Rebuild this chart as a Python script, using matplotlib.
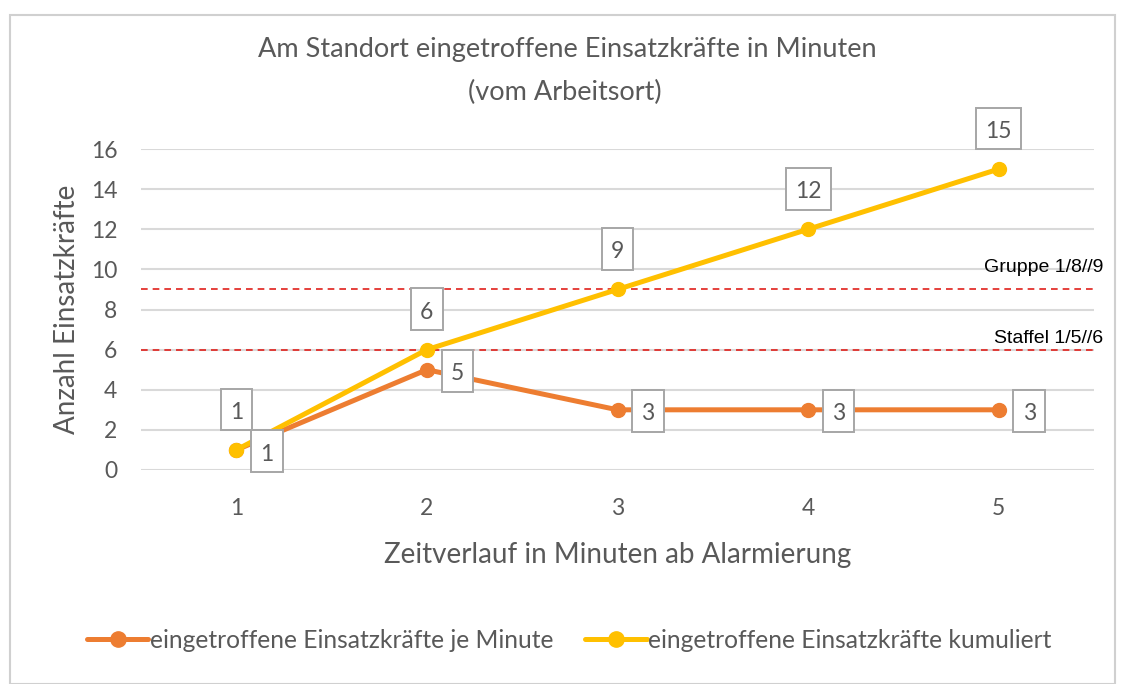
import matplotlib.pyplot as plt
from matplotlib.patches import Rectangle
from matplotlib.path import Path

# data
minutes = [1, 2, 3, 4, 5]
per_minute = [1, 5, 3, 3, 3]
cumulative = [1, 6, 9, 12, 15]
y_ticks = [0, 2, 4, 6, 8, 10, 12, 14, 16]
ref_values = [9, 6]
ref_labels = ['Gruppe 1/8//9', 'Staffel 1/5//6']

orange = '#ED7D31'
yellow = '#FFC000'
gray_txt = '#595959'

plt.rcParams['font.family'] = ['Lato', 'DejaVu Sans']


# label boxes in the original are taller than wide, digit centred
def tall_box(x0, y0, width, height, mutation_size):
    px = 0.4 * mutation_size
    x1 = x0 + width + px
    y1 = y0 + height + 0.58 * mutation_size
    x0, y0 = x0 - px, y0 - 0.32 * mutation_size
    return Path([(x0, y0), (x1, y0), (x1, y1), (x0, y1), (x0, y0)], closed=True)


fig = plt.figure(figsize=(11.23, 6.84), dpi=100)
fig.patches.append(Rectangle((10 / 1123, 0), 1105 / 1123, 669 / 684, transform=fig.transFigure,
                             fill=False, ec='#D0D0D0', lw=1.5))
ax = fig.add_axes([141 / 1123, 214 / 684, 953 / 1123, 321 / 684])

ax.set_xlim(0.5, 5.5)
ax.set_ylim(0, 16)
ax.set_yticks(y_ticks)
ax.set_xticks(minutes)
ax.grid(axis='y', color='#D9D9D9', lw=1.5)
ax.set_axisbelow(True)
for s in ax.spines.values():
    s.set_visible(False)
ax.tick_params(length=0, labelsize=16.5, colors=gray_txt, pad=17)
ax.tick_params(axis='x', pad=20.5)

# threshold lines, text placed by hand like in the original
label_y = [9.87, 6.33]
for v, lab, ty in zip(ref_values, ref_labels, label_y):
    ax.axhline(v, color='#E0201B', ls=(0, (4, 3)), lw=1.2, xmin=0, xmax=1.003, clip_on=False)
    ax.text(5.547, ty, lab, ha='right', va='baseline', fontsize=14,
            family=['Liberation Sans', 'DejaVu Sans'], color='black', clip_on=False)

ax.plot(minutes, per_minute, color=orange, lw=3.6, marker='o', ms=10,
        label='eingetroffene Einsatzkräfte je Minute', solid_capstyle='round')
ax.plot(minutes, cumulative, color=yellow, lw=3.6, marker='o', ms=10,
        label='eingetroffene Einsatzkräfte kumuliert', solid_capstyle='round')

box = dict(boxstyle=tall_box, fc='white', ec='#A6A6A6', lw=1.4)
for x, v in zip(minutes, per_minute):
    ax.annotate(str(v), (x, v), xytext=(22, -3), textcoords='offset points', ha='center',
                va='center', fontsize=16.5, color=gray_txt, bbox=box, zorder=5)
for x, v in zip(minutes, cumulative):
    ax.annotate(str(v), (x, v), xytext=(0, 27), textcoords='offset points', ha='center',
                va='center', fontsize=16.5, color=gray_txt, bbox=box, zorder=5,
                annotation_clip=False)

fig.text(567 / 1123, 1 - 50 / 684, 'Am Standort eingetroffene Einsatzkräfte in Minuten',
         ha='center', va='center', fontsize=19.5, color=gray_txt)
fig.text(565 / 1123, 1 - 92 / 684, '(vom Arbeitsort)', ha='center', va='center',
         fontsize=19.5, color=gray_txt)
ax.set_xlabel('Zeitverlauf in Minuten ab Alarmierung', fontsize=20, color=gray_txt, labelpad=16)
ax.set_ylabel('Anzahl Einsatzkräfte', fontsize=20, color=gray_txt, labelpad=8)

fig.legend(loc='center', bbox_to_anchor=(569 / 1123, 1 - 640 / 684), ncol=2, frameon=False,
           fontsize=17.7, labelcolor=gray_txt, handlelength=2.5, handletextpad=0.05,
           columnspacing=1.3, markerscale=1.1)

fig.savefig('out.png', dpi=100)
